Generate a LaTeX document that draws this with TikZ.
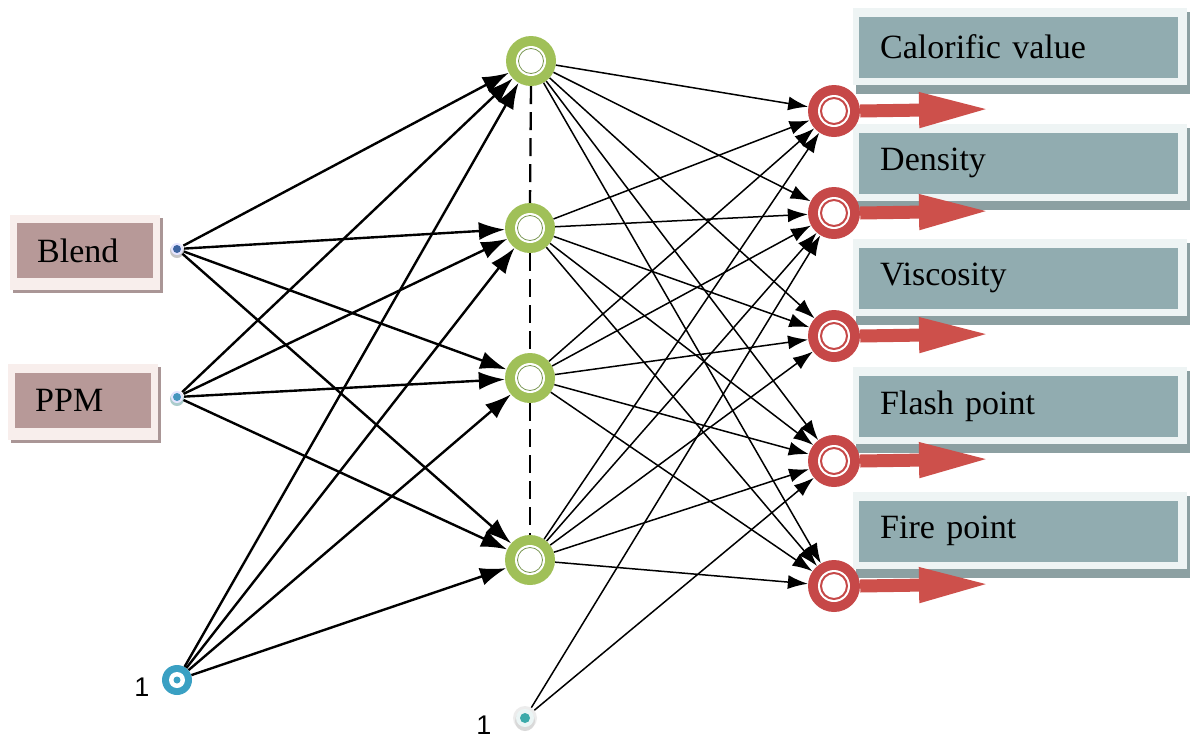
\documentclass[tikz,border=0pt]{standalone}
\usepackage{fontspec}
\setmainfont{Liberation Serif}
\newfontfamily\lsans{Liberation Sans}
\usetikzlibrary{arrows.meta,calc,backgrounds}
\definecolor{rose}{RGB}{183,153,152}
\definecolor{roseframe}{RGB}{248,238,236}
\definecolor{roseshadow}{RGB}{170,150,150}
\definecolor{slate}{RGB}{145,172,176}
\definecolor{slateframe}{RGB}{238,244,244}
\definecolor{slateshadow}{RGB}{140,160,162}
\definecolor{ringgreen}{RGB}{160,192,88}
\definecolor{ringgreendark}{RGB}{120,150,80}
\definecolor{ringred}{RGB}{198,72,72}
\definecolor{arrred}{RGB}{205,80,75}
\definecolor{tealA}{RGB}{58,160,195}
\definecolor{tealB}{RGB}{60,170,170}
\definecolor{dotblue}{RGB}{60,100,160}
\definecolor{dotblueB}{RGB}{70,150,190}
\newcommand\boxfont{\fontsize{34}{40}\selectfont}
\begin{document}
\begin{tikzpicture}[x=1pt,y=-1pt,
  inarrow/.style={line width=2.4pt, -{Latex[length=26pt,width=18pt]}},
  outarrow/.style={line width=1.5pt, -{Latex[length=20pt,width=14pt]}},
  hid/.style={circle, minimum size=50pt, inner sep=0pt, fill=ringgreen},
  outn/.style={circle, minimum size=52pt, inner sep=0pt, fill=ringred},
  inn/.style={circle, minimum size=14pt, inner sep=0pt, fill=white},
  inbox/.style={fill=rose, minimum height=55pt, text width=96pt, inner xsep=20pt, align=left, anchor=west, font=\boxfont},
  outbox/.style={fill=slate, minimum height=61pt, text width=277pt, inner xsep=21pt, align=left, anchor=west, font=\boxfont},
  bigarrow/.style={draw=arrred, line width=13pt, -{Triangle[length=72pt,width=32pt]}},
  onelabel/.style={font=\lsans\fontsize{27}{30}\selectfont, inner sep=0pt},
]
\useasboundingbox (0,0) rectangle (1200,745);

% text boxes
\node[inbox] (blendbox) at (17,250.5) {Blend};
\node[inbox] (ppmbox) at (15,400) {PPM};
\node[outbox] (cv) at (859,47) {Calorific value};
\node[outbox] (den) at (859,163) {Density};
\node[outbox] (vis) at (859,278) {Viscosity};
\node[outbox] (fla) at (859,406) {Flash point};
\node[outbox] (fir) at (859,531) {Fire point};

% input nodes
\node[inn] (blend) at (177,249) {};
\node[inn] (ppm) at (177,397) {};
\node[circle, minimum size=30pt, inner sep=0pt, fill=tealA] (b1) at (177,680) {};
\node[circle, minimum size=24pt, inner sep=0pt, fill=gray!15] (b2) at (525,718) {};
\node[onelabel] (l1) at (142,687) {1};
\node[onelabel] (l2) at (484,725) {1};

% hidden nodes
\node[hid] (h1) at (531,61) {};
\node[hid] (h2) at (530,228) {};
\node[hid] (h3) at (530,378) {};
\node[hid] (h4) at (530,560) {};

% output nodes
\node[outn] (o1) at (834,111) {};
\node[outn] (o2) at (834,213) {};
\node[outn] (o3) at (834,336) {};
\node[outn] (o4) at (834,461) {};
\node[outn] (o5) at (834,586) {};

% node decorations
\foreach \h in {h1,h2,h3,h4} {
  \fill[white] (\h) circle (15pt);
  \draw[ringgreendark, line width=0.8pt] (\h) circle (12.5pt);
}
\foreach \o in {o1,o2,o3,o4,o5} {
  \fill[white] (\o) circle (16pt);
  \draw[ringred, line width=2pt] (\o) circle (13pt);
}
\fill[gray!45] ($(blend)+(0,2)$) circle (7pt);
\fill[white!90!blue] (blend) circle (6pt);
\fill[dotblue] (blend) circle (4pt);
\fill[gray!35!teal!40] ($(ppm)+(0,2)$) circle (7pt);
\fill[white!90!blue] (ppm) circle (6pt);
\fill[dotblueB] (ppm) circle (4pt);
\fill[white] (b1) circle (8pt);
\fill[tealA] (b1) circle (3.5pt);
\fill[gray!30] ($(b2)+(0,3)$) circle (10pt);
\fill[white!92!teal] (b2) circle (9pt);
\fill[tealB] (b2) circle (5pt);

% dashed line between hidden nodes
\draw[line width=2.3pt, dash pattern=on 18pt off 8pt] (h1.south) -- (h2.north);
\draw[line width=2.3pt, dash pattern=on 18pt off 8pt] (h2.south) -- (h3.north);
\draw[line width=2.3pt, dash pattern=on 18pt off 8pt] (h3.south) -- (h4.north);

% connections input -> hidden
\foreach \s in {blend,ppm,b1}
  \foreach \t in {h1,h2,h3,h4}
    \draw[inarrow] (\s) -- (\t);

% connections hidden -> output
\foreach \s in {h1,h2,h3,h4}
  \foreach \t in {o1,o2,o3,o4,o5}
    \draw[outarrow] (\s) -- (\t);
\draw[outarrow] (b2) -- (o2);
\draw[outarrow] (b2) -- (o4);

% output arrows
\foreach \o in {o1,o2,o3,o4,o5} {
  \coordinate (\o tip) at ($(\o)+(157,-2)$);
  \draw[bigarrow] (\o.east) -- (\o tip);
}

% box frames and shadows
\begin{scope}[on background layer]
\fill[white] (0,0) rectangle (1200,745);
\foreach \b in {blendbox,ppmbox} {
  \fill[roseshadow] ($(\b.north west)+(-4,-5)$) rectangle ($(\b.south east)+(10,15)$);
  \fill[roseframe] ($(\b.north west)+(-7,-8)$) rectangle ($(\b.south east)+(7,12)$);
}
\foreach \b in {cv,den,vis,fla,fir} {
  \fill[slateshadow] ($(\b.north west)+(-3,-4)$) rectangle ($(\b.south east)+(12,16)$);
  \fill[slateframe] ($(\b.north west)+(-6,-8)$) rectangle ($(\b.south east)+(9,7)$);
}
\end{scope}
\end{tikzpicture}
\end{document}
